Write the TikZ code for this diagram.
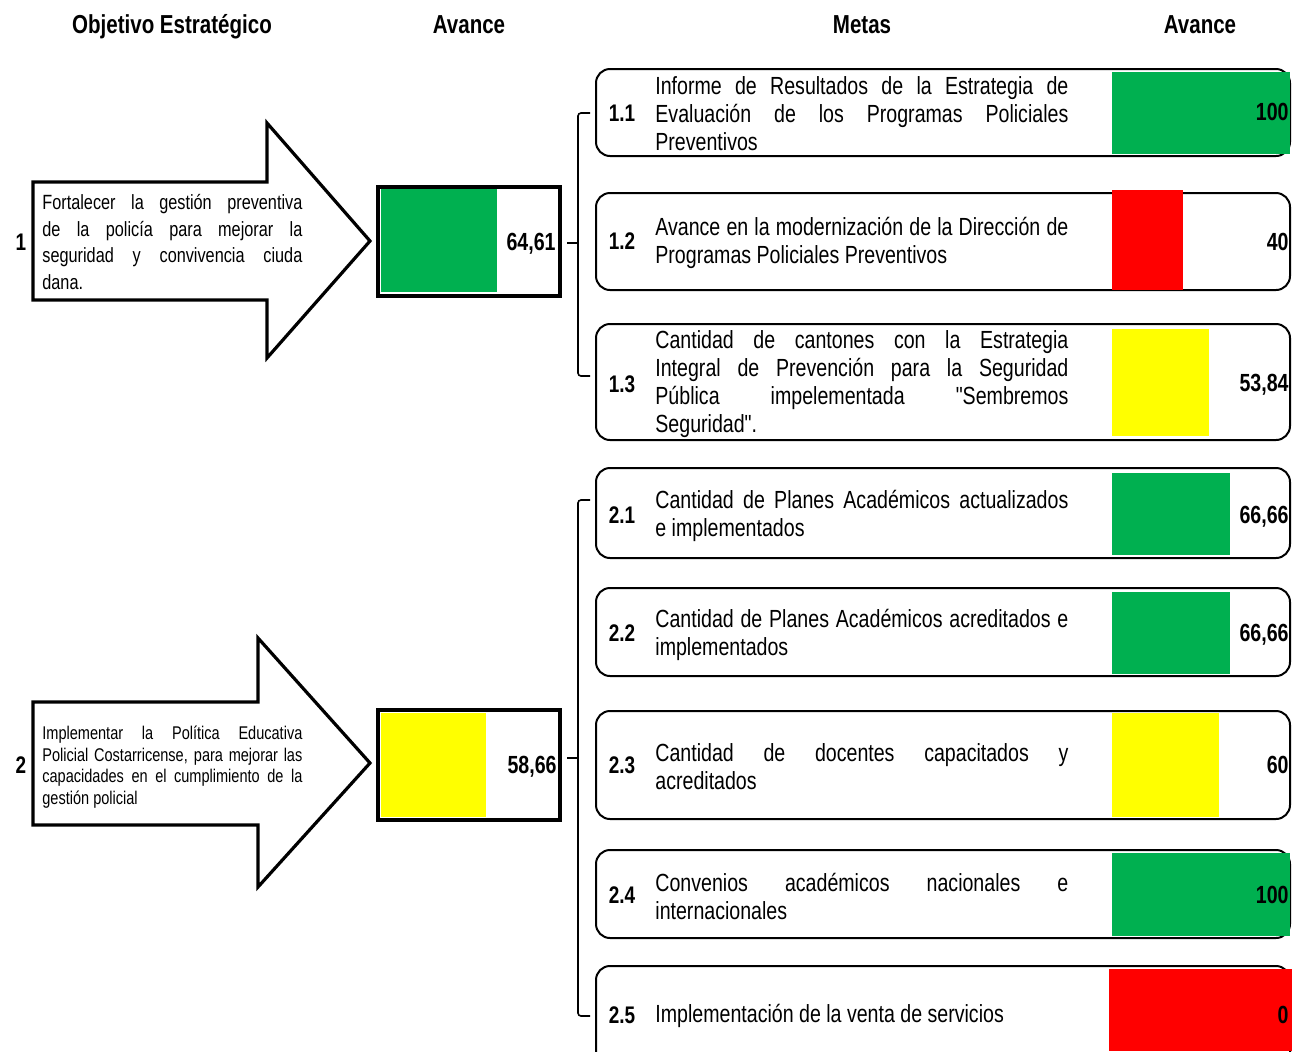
\documentclass[tikz,border=0pt]{standalone}
\usepackage{fontspec}
\setmainfont{Liberation Sans}[FakeStretch=0.79, Ligatures=TeXOff]
\definecolor{vgreen}{HTML}{00B050}
\definecolor{vred}{HTML}{FF0000}
\definecolor{vyel}{HTML}{FFFF00}
\newlength\mw \setlength\mw{206.5pt}
\newlength\ow \setlength\ow{130pt}
\newcommand\jst[2]{\makebox[#1][s]{#2}}
\newcommand\jlast[2]{\makebox[#1][l]{#2}}
\tikzset{
  head/.style={font=\bfseries\fontsize{13}{15}\selectfont, inner sep=0pt, anchor=base},
  mtext/.style={font=\fontsize{12.4}{14}\selectfont, align=left, inner sep=0pt, anchor=west},
  otext1/.style={font=\fontsize{10.3}{13.25}\selectfont, align=left, inner sep=0pt, anchor=west},
  otext2/.style={font=\fontsize{9.2}{10.75}\selectfont, align=left, inner sep=0pt, anchor=west},
  mnum/.style={font=\bfseries\fontsize{12}{14}\selectfont, inner sep=0pt, text height=0.716em, text depth=0pt},
  mval/.style={font=\bfseries\fontsize{12.4}{14}\selectfont, inner sep=0pt, anchor=east, text height=0.716em, text depth=0pt},
  mbox/.style={draw, line width=1pt, rounded corners=7pt},
  bigarrow/.style={draw, line width=1.6pt, line join=miter, fill=white},
  avframe/.style={draw, line width=2pt},
  brk/.style={draw, line width=0.8pt, rounded corners=1.5pt},
}
\begin{document}
\begin{tikzpicture}[x=0.5pt,y=-0.5pt]
\useasboundingbox (0,0) rectangle (1292,1051);
\fill[white] (0,0) rectangle (1292,1051);

% headers
\node[head] (h1) at (172,33) {Objetivo Estratégico};
\node[head] (h2) at (469,33) {Avance};
\node[head] (h3) at (862,33) {Metas};
\node[head] (h4) at (1200,33) {Avance};

% big arrows
\draw[bigarrow] (33,182) -- (267,182) -- (267,123) -- (370,241) -- (267,358) -- (267,300) -- (33,300) -- cycle;
\draw[bigarrow] (33,702) -- (258,702) -- (258,638) -- (370,763) -- (258,887) -- (258,825) -- (33,825) -- cycle;

\node[mnum] (n1) at (21,243) {1};
\node[mnum] (n2) at (21,766) {2};

\node[otext1] (o1) at (42,242) {\jst{\ow}{Fortalecer la gestión preventiva}\\
\jst{\ow}{de la policía para mejorar la}\\
\jst{\ow}{seguridad y convivencia ciuda}\\
\jlast{\ow}{dana.}};
\node[otext2] (o2) at (42,767) {\jst{\ow}{Implementar la Política Educativa}\\
\jst{\ow}{Policial Costarricense, para mejorar las}\\
\jst{\ow}{capacidades en el cumplimiento de la}\\
\jlast{\ow}{gestión policial}};

% avance boxes
\fill[vgreen] (381,189) rectangle (497,292);
\draw[avframe] (378,187) rectangle (560,296);
\node[mval] (a1) at (556,243) {64,61};
\fill[vyel] (381,713) rectangle (486,817);
\draw[avframe] (378,710) rectangle (560,820);
\node[mval] (a2) at (557,766) {58,66};

% brackets
\coordinate (g1t) at (590,113);
\coordinate (g1b) at (590,376);
\coordinate (g1a) at (567,243);
\coordinate (g1c) at (578,243);
\draw[brk] (g1t) -- (578,113) -- (578,376) -- (g1b);
\draw[brk] (g1a) -- (g1c);
\coordinate (g2t) at (590,500);
\coordinate (g2b) at (590,1016);
\coordinate (g2a) at (567,758);
\coordinate (g2c) at (578,758);
\draw[brk] (g2t) -- (578,500) -- (578,1016) -- (g2b);
\draw[brk] (g2a) -- (g2c);

% meta boxes
\draw[mbox] (596,69) rectangle (1290,156);
\draw[mbox] (596,193) rectangle (1290,290);
\draw[mbox] (596,324) rectangle (1290,440);
\draw[mbox] (596,468) rectangle (1290,558);
\draw[mbox] (596,588) rectangle (1290,676);
\draw[mbox] (596,711) rectangle (1290,819);
\draw[mbox] (596,850) rectangle (1290,938);
\begin{scope}
\clip (0,0) rectangle (1292,1051);
\draw[mbox] (596,966) rectangle (1290,1080);
\end{scope}

% bars
\fill[vgreen] (1112,72) rectangle (1290,154);
\fill[vred] (1112,190) rectangle (1183,290);
\fill[vyel] (1112,329) rectangle (1209,436);
\fill[vgreen] (1112,473) rectangle (1230,555);
\fill[vgreen] (1112,592) rectangle (1230,674);
\fill[vyel] (1112,713) rectangle (1219,817);
\fill[vgreen] (1112,853) rectangle (1290,936);
\fill[vred] (1109,969) rectangle (1292,1051);

% numbers
\node[mnum] (m11) at (622,114) {1.1};
\node[mnum] (m12) at (622,242) {1.2};
\node[mnum] (m13) at (622,385) {1.3};
\node[mnum] (m21) at (622,516) {2.1};
\node[mnum] (m22) at (622,634) {2.2};
\node[mnum] (m23) at (622,766) {2.3};
\node[mnum] (m24) at (622,896) {2.4};
\node[mnum] (m25) at (622,1016) {2.5};

% texts
\node[mtext] (t11) at (655,114) {\jst{\mw}{Informe de Resultados de la Estrategia de}\\
\jst{\mw}{Evaluación de los Programas Policiales}\\
\jlast{\mw}{Preventivos}};
\node[mtext] (t12) at (655,242.5) {\jst{\mw}{Avance en la modernización de la Dirección de}\\
\jlast{\mw}{Programas Policiales Preventivos}};
\node[mtext] (t13) at (655,384.5) {\jst{\mw}{Cantidad de cantones con la Estrategia}\\
\jst{\mw}{Integral de Prevención para la Seguridad}\\
\jst{\mw}{Pública impelementada "Sembremos}\\
\jlast{\mw}{Seguridad".}};
\node[mtext] (t21) at (655,515.5) {\jst{\mw}{Cantidad de Planes Académicos actualizados}\\
\jlast{\mw}{e implementados}};
\node[mtext] (t22) at (655,634.5) {\jst{\mw}{Cantidad de Planes Académicos acreditados e}\\
\jlast{\mw}{implementados}};
\node[mtext] (t23) at (655,767) {\jst{\mw}{Cantidad de docentes capacitados y}\\
\jlast{\mw}{acreditados}};
\node[mtext] (t24) at (655,896.5) {\jst{\mw}{Convenios académicos nacionales e}\\
\jlast{\mw}{internacionales}};
\node[mtext] (t25) at (655,1016) {Implementación de la venta de servicios};

% values
\node[mval] (v11) at (1289,113) {100};
\node[mval] (v12) at (1289,243) {40};
\node[mval] (v13) at (1289,384) {53,84};
\node[mval] (v21) at (1289,516) {66,66};
\node[mval] (v22) at (1289,634) {66,66};
\node[mval] (v23) at (1289,766) {60};
\node[mval] (v24) at (1289,896) {100};
\node[mval] (v25) at (1289,1016) {0};
\end{tikzpicture}
\end{document}
